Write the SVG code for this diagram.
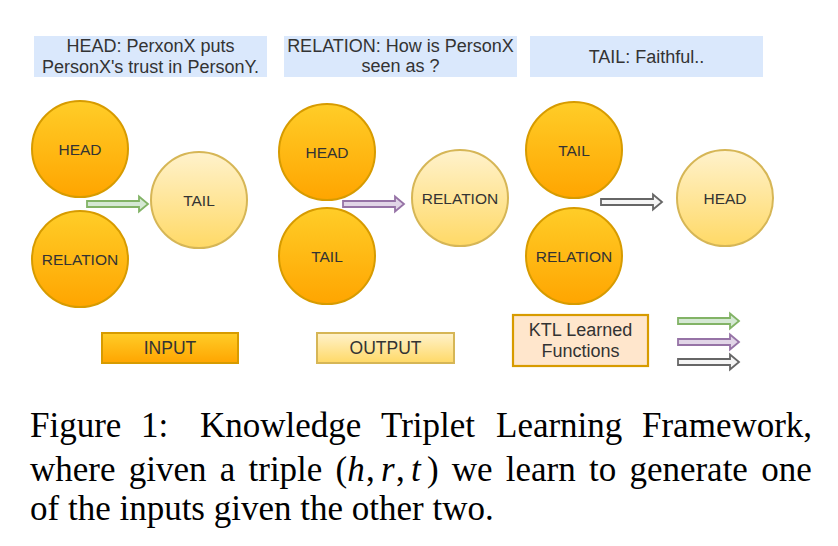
<svg xmlns="http://www.w3.org/2000/svg" width="838" height="546" viewBox="0 0 838 546">
<defs>
<linearGradient id="gOr" x1="0" y1="0" x2="0" y2="1"><stop offset="0" stop-color="#ffcd28"/><stop offset="1" stop-color="#ffa500"/></linearGradient>
<linearGradient id="gLt" x1="0" y1="0" x2="0" y2="1"><stop offset="0" stop-color="#fff2cc"/><stop offset="1" stop-color="#ffd966"/></linearGradient>
<path id="arr" d="M0,-3 L52,-3 L52,-7.5 L61,0 L52,7.5 L52,3 L0,3 Z"/>
</defs>
<style>
.lbl{fill:#dae8fc}
.sans{font-family:"Liberation Sans",Arial,sans-serif;fill:#333333;text-anchor:middle}
.t18{font-size:18px}
.t17{font-size:17.5px}
.t15{font-size:15.5px}
.cOr{fill:url(#gOr);stroke:#d79b00;stroke-width:2}
.cLt{fill:url(#gLt);stroke:#d6b656;stroke-width:2}
.aG{fill:#d5e8d4;stroke:#82b366;stroke-width:1.8}
.aP{fill:#e1d5e7;stroke:#9673a6;stroke-width:1.8}
.aK{fill:#f5f5f5;stroke:#666666;stroke-width:1.8}
.cap{font-family:"Liberation Serif","Times New Roman",serif;font-size:35px;fill:#000}
.it{font-style:italic}
</style>
<g id="label-head">
<rect class="lbl" x="34" y="36" width="233" height="41"/>
<text class="sans t18" x="150.5" y="52">HEAD: PerxonX puts</text>
<text class="sans t18" x="150.5" y="73">PersonX's trust in PersonY.</text>
</g>
<g id="label-relation">
<rect class="lbl" x="284" y="36" width="233" height="41"/>
<text class="sans t18" x="400.5" y="52">RELATION: How is PersonX</text>
<text class="sans t18" x="400.5" y="72">seen as ?</text>
</g>
<g id="label-tail">
<rect class="lbl" x="530" y="36" width="233" height="41"/>
<text class="sans t18" x="646.5" y="63">TAIL: Faithful..</text>
</g>
<g id="p1-head"><circle class="cOr" cx="80" cy="149" r="48"/><text class="sans t15" x="80" y="154.5">HEAD</text></g>
<g id="p1-relation"><circle class="cOr" cx="80" cy="259" r="48"/><text class="sans t15" x="80" y="264.5">RELATION</text></g>
<g id="p1-tail"><circle class="cLt" cx="199" cy="200" r="48"/><text class="sans t15" x="199" y="205.5">TAIL</text></g>
<g id="p2-head"><circle class="cOr" cx="327" cy="152" r="48"/><text class="sans t15" x="327" y="157.5">HEAD</text></g>
<g id="p2-tail"><circle class="cOr" cx="327" cy="256" r="48"/><text class="sans t15" x="327" y="261.5">TAIL</text></g>
<g id="p2-relation"><circle class="cLt" cx="460" cy="198" r="48"/><text class="sans t15" x="460" y="203.5">RELATION</text></g>
<g id="p3-tail"><circle class="cOr" cx="574" cy="150" r="48"/><text class="sans t15" x="574" y="155.5">TAIL</text></g>
<g id="p3-relation"><circle class="cOr" cx="574" cy="256" r="48"/><text class="sans t15" x="574" y="261.5">RELATION</text></g>
<g id="p3-head"><circle class="cLt" cx="725" cy="198" r="48"/><text class="sans t15" x="725" y="203.5">HEAD</text></g>
<g id="connectors">
<use href="#arr" class="aG" transform="translate(87,204)"/>
<use href="#arr" class="aP" transform="translate(343,204)"/>
<use href="#arr" class="aK" transform="translate(601,202)"/>
<use href="#arr" class="aG" transform="translate(678,321)"/>
<use href="#arr" class="aP" transform="translate(678,342)"/>
<use href="#arr" class="aK" transform="translate(678,362)"/>
</g>
<g id="legend-input"><rect x="102" y="333" width="136" height="30" fill="url(#gOr)" stroke="#d79b00" stroke-width="2"/><text class="sans t17" x="170" y="354">INPUT</text></g>
<g id="legend-output"><rect x="317" y="333" width="137" height="30" fill="url(#gLt)" stroke="#d6b656" stroke-width="2"/><text class="sans t17" x="385.5" y="354">OUTPUT</text></g>
<g id="legend-ktl"><rect x="513" y="315" width="135" height="51" fill="#ffe6cc" stroke="#d79b00" stroke-width="2.2"/><text class="sans t18" x="580.5" y="336">KTL Learned</text><text class="sans t18" x="580.5" y="357">Functions</text></g>
<g id="caption">
<text class="cap" y="437"><tspan x="30">Figure</tspan><tspan x="141">1:</tspan><tspan x="200">Knowledge</tspan><tspan x="381">Triplet</tspan><tspan x="496">Learning</tspan><tspan x="642">Framework,</tspan></text>
<text class="cap" y="481"><tspan x="30">where</tspan><tspan x="128.7">given</tspan><tspan x="219.7">a</tspan><tspan x="248.5">triple</tspan><tspan x="335.6">(</tspan><tspan x="347.3" class="it">h</tspan><tspan x="366">,</tspan><tspan x="381" class="it">r</tspan><tspan x="396">,</tspan><tspan x="411" class="it">t</tspan><tspan x="426.9">)</tspan><tspan x="451.8">we</tspan><tspan x="505.8">learn</tspan><tspan x="589">to</tspan><tspan x="629.4">generate</tspan><tspan x="761.2">one</tspan></text>
<text class="cap" x="30" y="520">of the inputs given the other two.</text>
</g>
</svg>
